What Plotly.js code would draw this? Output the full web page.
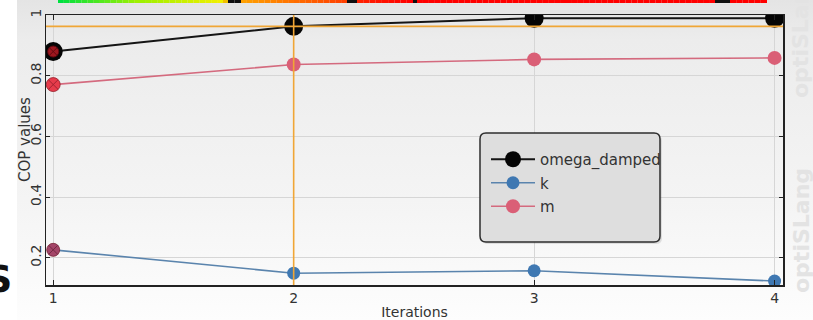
<!DOCTYPE html>
<html>
<head>
<meta charset="utf-8">
<script src="https://cdn.plot.ly/plotly-3.0.1.min.js"></script>
<style>
  html, body { margin: 0; padding: 0; background: #ffffff; }
  #chart {
    width: 813px; height: 320px;
    background:
      linear-gradient(to right, #ffffff 17px, rgba(255,255,255,0) 17px),
      linear-gradient(to bottom, #e4e4e4 0px, #ececec 40px, #f4f4f4 200px, #fdfdfd 320px);
  }
</style>
</head>
<body>
<div id="chart"></div>
<script>
// Iteration numbers and COP values per parameter
const iterations = [1, 2, 3, 4];
const omegaDamped = [0.88, 0.963, 0.99, 0.99];
const kValues = [0.226, 0.149, 0.157, 0.123];
const mValues = [0.771, 0.837, 0.854, 0.859];
const seriesNames = ['omega_damped', 'k', 'm'];
const yTickValues = [0.2, 0.4, 0.6, 0.8, 1.0];

// plot frame in pixels (used to place decorations in paper coordinates)
const W = 813, H = 320;
const M = { l: 46, r: 30, t: 15, b: 35 };
const plotW = W - M.l - M.r, plotH = H - M.t - M.b;
const px = x => (x - M.l) / plotW;
const py = y => (H - M.b - y) / plotH;

const traces = [
  {
    name: seriesNames[0], legendgroup: 'a', cliponaxis: true,
    x: iterations, y: omegaDamped, type: 'scatter', mode: 'lines+markers',
    line: { color: '#151515', width: 2 },
    marker: { color: '#050505', size: 19 }
  },
  {
    name: seriesNames[1], legendgroup: 'b', cliponaxis: true,
    x: iterations, y: kValues, type: 'scatter', mode: 'lines+markers',
    line: { color: '#5a84ad', width: 1.6 },
    marker: { color: '#3f78b2', size: 13 }
  },
  {
    name: seriesNames[2], legendgroup: 'c', cliponaxis: true,
    x: iterations, y: mValues, type: 'scatter', mode: 'lines+markers',
    line: { color: '#d46a7e', width: 1.6 },
    marker: { color: '#da5f76', size: 14 }
  },
  {
    // highlighted first iteration
    x: [iterations[0], iterations[0], iterations[0]],
    y: [omegaDamped[0], kValues[0], mValues[0]],
    type: 'scatter', mode: 'markers', showlegend: false, hoverinfo: 'skip',
    marker: {
      symbol: 'circle-x', color: ['#e0202a', '#d0304a', '#ec2c3a'],
      size: [11, 13, 14], line: { color: '#8a0a14', width: 1 }
    }
  }
];

// colour strip along the top edge
function stripShapes() {
  const segs = [
    [58, 140, '#00e040', '#a0f000'],
    [140, 223, '#a0f000', '#f0f000'],
    [223, 228, '#f0c000', '#f0b000'],
    [228, 241, '#101010', '#101010'],
    [241, 347, '#ffa000', '#ff4000'],
    [347, 357, '#101010', '#101010'],
    [357, 413, '#ff2000', '#ff0000'],
    [413, 417, '#101010', '#101010'],
    [417, 715, '#ff0000', '#ff0000'],
    [715, 730, '#101010', '#101010'],
    [730, 767, '#ff0000', '#ff0000']
  ];
  const hex = h => [1, 3, 5].map(i => parseInt(h.substr(i, 2), 16));
  const out = [];
  segs.forEach(([a, b, c0, c1]) => {
    const n = Math.max(1, Math.round((b - a) / 6));
    const A = hex(c0), B = hex(c1);
    for (let i = 0; i < n; i++) {
      const t = n === 1 ? 0 : i / (n - 1);
      const c = A.map((v, j) => Math.round(v + (B[j] - v) * t));
      out.push({
        type: 'rect', xref: 'paper', yref: 'paper', layer: 'above',
        x0: px(a + (b - a) * i / n), x1: px(a + (b - a) * (i + 1) / n),
        y0: py(3), y1: py(0),
        fillcolor: 'rgb(' + c.join(',') + ')', line: { width: 0 }
      });
    }
  });
  return out;
}

function roundedRect(x0, y0, x1, y1, r) {
  const rx = r / plotW, ry = r / plotH;
  const X0 = px(x0), X1 = px(x1), Y0 = py(y1), Y1 = py(y0);
  return 'M ' + (X0 + rx) + ' ' + Y1 +
    ' L ' + (X1 - rx) + ' ' + Y1 + ' Q ' + X1 + ' ' + Y1 + ' ' + X1 + ' ' + (Y1 - ry) +
    ' L ' + X1 + ' ' + (Y0 + ry) + ' Q ' + X1 + ' ' + Y0 + ' ' + (X1 - rx) + ' ' + Y0 +
    ' L ' + (X0 + rx) + ' ' + Y0 + ' Q ' + X0 + ' ' + Y0 + ' ' + X0 + ' ' + (Y0 + ry) +
    ' L ' + X0 + ' ' + (Y1 - ry) + ' Q ' + X0 + ' ' + Y1 + ' ' + (X0 + rx) + ' ' + Y1 + ' Z';
}

const shapes = [
  // crosshair on the selected design
  { type: 'line', xref: 'paper', yref: 'y', x0: 0, x1: 1, y0: omegaDamped[1], y1: omegaDamped[1],
    line: { color: '#f0a636', width: 1.6 }, layer: 'above' },
  { type: 'line', xref: 'x', yref: 'paper', x0: iterations[1], x1: iterations[1], y0: 0, y1: 1,
    line: { color: '#f0a636', width: 1.6 }, layer: 'above' },
  // legend frame with soft shadow
  { type: 'path', xref: 'paper', yref: 'paper', layer: 'above',
    path: roundedRect(482, 135, 662, 244, 6), fillcolor: 'rgba(0,0,0,0.10)', line: { width: 0 } },
  { type: 'path', xref: 'paper', yref: 'paper', layer: 'above',
    path: roundedRect(480, 133, 660, 242, 6), fillcolor: '#dedede', line: { color: '#2e2e2e', width: 1.5 } }
].concat(stripShapes());

const watermarkFont = { family: 'DejaVu Sans', size: 22, color: '#e3e3e3', weight: 'bold' };
const annotations = [
  { text: 'optiSLang', xref: 'paper', yref: 'paper', x: px(801), y: py(231), textangle: -90,
    xanchor: 'center', yanchor: 'middle', showarrow: false, font: watermarkFont },
  { text: 'optiSLang', xref: 'paper', yref: 'paper', x: px(801), y: py(36), textangle: -90,
    xanchor: 'center', yanchor: 'middle', showarrow: false, font: watermarkFont },
  { text: 'S', xref: 'paper', yref: 'paper', x: px(14), y: py(279), xanchor: 'right', yanchor: 'middle',
    showarrow: false, font: { family: 'DejaVu Sans', size: 38, color: '#111111', weight: 'bold' } },
  // y axis title
  { text: 'COP values', xref: 'paper', yref: 'paper', x: px(25), y: py(140), textangle: -90,
    xanchor: 'center', yanchor: 'middle', showarrow: false,
    font: { family: 'DejaVu Sans', size: 15, color: '#333333' } }
];

const layout = {
  width: W, height: H,
  margin: M,
  paper_bgcolor: 'rgba(0,0,0,0)',
  plot_bgcolor: 'rgba(0,0,0,0)',
  showlegend: true,
  legend: {
    x: px(486), y: py(143), xanchor: 'left', yanchor: 'top',
    bgcolor: 'rgba(0,0,0,0)', borderwidth: 0, tracegroupgap: 1, itemwidth: 44,
    font: { family: 'DejaVu Sans', size: 15, color: '#333333' }
  },
  xaxis: {
    range: [0.97, 4.035], tickvals: iterations, ticktext: iterations.map(String),
    ticks: 'inside', ticklen: 5, tickcolor: '#222', mirror: 'ticks',
    showline: true, linecolor: '#222', linewidth: 1.5,
    showgrid: true, gridcolor: '#d6d6d6', gridwidth: 1, zeroline: false,
    tickfont: { family: 'DejaVu Sans', size: 14, color: '#333' },
    title: { text: 'Iterations', standoff: 3,
      font: { family: 'DejaVu Sans', size: 14, color: '#333' } }
  },
  yaxis: {
    range: [0.11, 1.0005], tickvals: yTickValues, tickangle: -90,
    ticks: 'inside', ticklen: 4, tickcolor: '#222', mirror: 'ticks',
    showline: true, linecolor: '#222', linewidth: 1.5, ticklabelstandoff: -2,
    showgrid: true, gridcolor: '#d6d6d6', gridwidth: 1, zeroline: false,
    tickfont: { family: 'DejaVu Sans', size: 14, color: '#333' }
  },
  shapes: shapes,
  annotations: annotations
};

Plotly.newPlot('chart', traces, layout, { displayModeBar: false, staticPlot: true });
</script>
</body>
</html>
